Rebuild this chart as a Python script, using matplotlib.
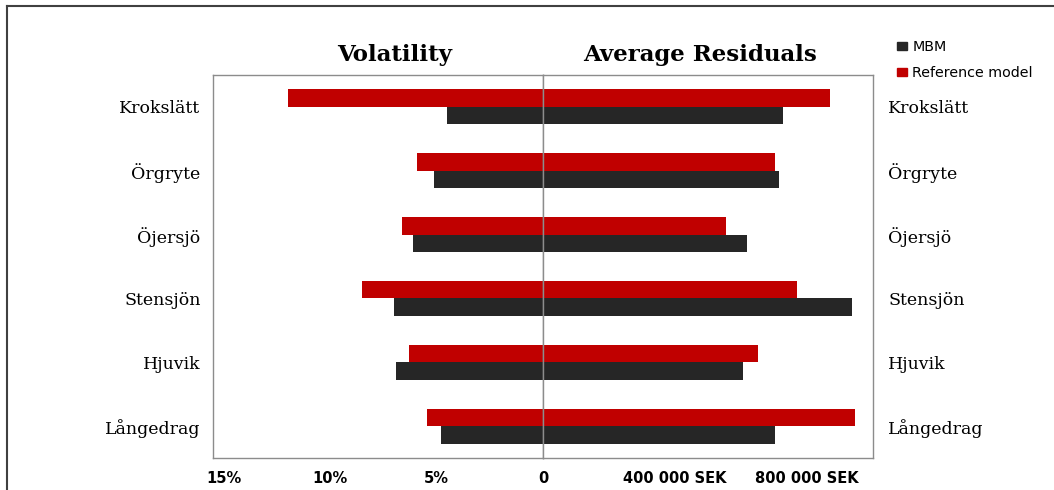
import matplotlib
matplotlib.use("Agg")
import matplotlib.pyplot as plt
from matplotlib.lines import Line2D
from matplotlib.patches import Patch

# ---- data ----
areas = ["Krokslätt", "Örgryte", "Öjersjö", "Stensjön", "Hjuvik", "Långedrag"]
vol_mbm = [4.5, 5.1, 6.1, 7.0, 6.9, 4.8]          # %
vol_ref = [12.0, 5.9, 6.6, 8.5, 6.3, 5.45]        # %
res_mbm = [728000, 714000, 619000, 937000, 607000, 704000]   # SEK
res_ref = [870000, 704000, 555000, 771000, 651000, 945000]   # SEK
vol_ticks = [15, 10, 5, 0]
vol_ticklabels = ["15%", "10%", "5%", "0"]
res_ticks = [400000, 800000]
res_ticklabels = ["400 000 SEK", "800 000 SEK"]
series_names = ["MBM", "Reference model"]

C_MBM = "#262626"
C_REF = "#C00000"
SPINE = "#8c8c8c"

W, H = 1054, 490
fig = plt.figure(figsize=(W / 100, H / 100), dpi=100)

def fx(px):
    return px / W

def fy(py):
    return 1 - py / H

ax_l = fig.add_axes([fx(213), fy(458), fx(543) - fx(213), fy(75) - fy(458)])
ax_r = fig.add_axes([fx(543), fy(458), fx(873) - fx(543), fy(75) - fy(458)])

h = 0.275
ypos = list(range(len(areas)))
y_ref = [y - h / 2 for y in ypos]
y_mbm = [y + h / 2 for y in ypos]

ax_l.barh(y_ref, vol_ref, height=h, color=C_REF)
ax_l.barh(y_mbm, vol_mbm, height=h, color=C_MBM)
ax_r.barh(y_ref, res_ref, height=h, color=C_REF)
ax_r.barh(y_mbm, res_mbm, height=h, color=C_MBM)

ax_l.set_xlim(15.5, 0)
ax_r.set_xlim(0, 1000000)
for ax in (ax_l, ax_r):
    ax.set_ylim(len(areas) - 0.5, -0.5)
    for s in ax.spines.values():
        s.set_color(SPINE)
        s.set_linewidth(1.0)
    ax.tick_params(axis="x", length=0, pad=9)
    ax.tick_params(axis="y", length=0)

tick_font = dict(family="DejaVu Sans", weight="bold", size=10.5)
ax_l.set_xticks(vol_ticks)
ax_l.set_xticklabels(vol_ticklabels, **tick_font)
ax_r.set_xticks(res_ticks)
ax_r.set_xticklabels(res_ticklabels, **tick_font)

cat_font = dict(family="DejaVu Serif", size=12.5)
ax_l.set_yticks(ypos)
ax_l.set_yticklabels(areas, **cat_font)
ax_l.tick_params(axis="y", pad=9)
ax_r.set_yticks(ypos)
ax_r.set_yticklabels(areas, **cat_font)
ax_r.yaxis.tick_right()
ax_r.tick_params(axis="y", pad=11)

title_font = dict(family="DejaVu Serif", weight="bold", size=16.5)
fig.text(fx(395), fy(55), "Volatility", ha="center", va="center", **title_font)
fig.text(fx(700), fy(55), "Average Residuals", ha="center", va="center", **title_font)

handles = [Patch(color=C_MBM), Patch(color=C_REF)]
fig.legend(handles, series_names, loc="upper left",
           bbox_to_anchor=(fx(891), fy(34)), frameon=False,
           handlelength=0.75, handleheight=0.5, handletextpad=0.35,
           labelspacing=0.85, borderaxespad=0,
           prop=dict(family="DejaVu Sans", size=10.3))

# outer frame
fig.add_artist(Line2D([fx(7), 1], [fy(6), fy(6)], color="#404040", lw=1.5))
fig.add_artist(Line2D([fx(7), fx(7)], [fy(6), 0], color="#404040", lw=1.5))

fig.savefig("out.png", dpi=100)
